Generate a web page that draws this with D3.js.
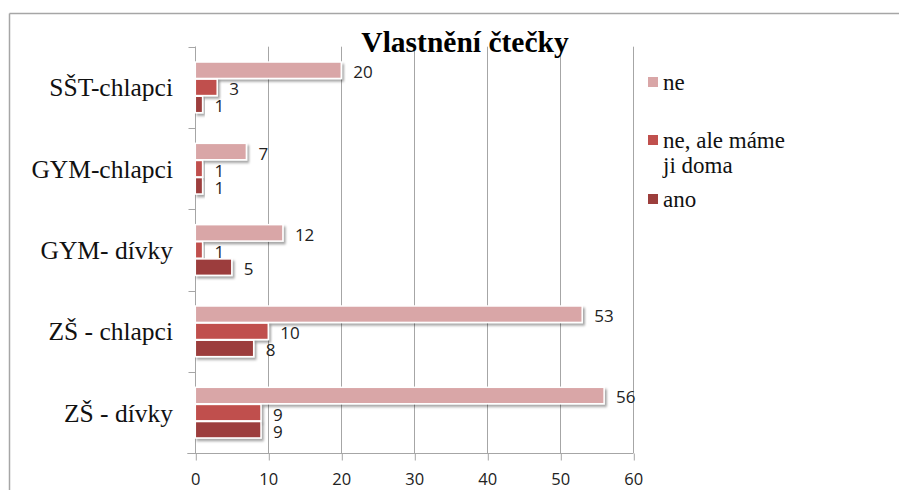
<!DOCTYPE html>
<html>
<head>
<meta charset="utf-8">
<script src="https://cdn.jsdelivr.net/npm/d3@7"></script>
<style>
  body { margin: 0; background: #fff; }
  svg { display: block; }
  .serif { font-family: 'Liberation Serif', 'Times New Roman', Times, 'DejaVu Serif', serif; }
  .sans { font-family: 'Open Sans', 'Liberation Sans', sans-serif; }
</style>
</head>
<body>
<svg width="899" height="490"></svg>
<script>
// data
const categories = ["SŠT-chlapci", "GYM-chlapci", "GYM- dívky", "ZŠ - chlapci", "ZŠ - dívky"];
const seriesNames = ["ne", "ne, ale máme ji doma", "ano"];
const neValues = [20, 7, 12, 53, 56];
const neDomaValues = [3, 1, 1, 10, 9];
const anoValues = [1, 1, 5, 8, 9];
const xTicks = [0, 10, 20, 30, 40, 50, 60];
const colors = ["#d9a6a7", "#c0504d", "#9c3e3c"];

const allValues = [neValues, neDomaValues, anoValues];

const svg = d3.select('svg');

// drop shadow like the office chart
const defs = svg.append('defs');
const f = defs.append('filter').attr('id', 'shadow')
    .attr('x', '-10%').attr('y', '-30%').attr('width', '130%').attr('height', '180%');
f.append('feDropShadow')
    .attr('dx', 2).attr('dy', 2.5).attr('stdDeviation', 1.3)
    .attr('flood-color', '#000').attr('flood-opacity', 0.35);

// outer frame (top + left only visible)
svg.append('line').attr('x1', 9.5).attr('x2', 899).attr('y1', 13.5).attr('y2', 13.5)
    .attr('stroke', '#a6a6a6').attr('stroke-width', 1.5);
svg.append('line').attr('x1', 9.5).attr('x2', 9.5).attr('y1', 13.5).attr('y2', 490)
    .attr('stroke', '#a6a6a6').attr('stroke-width', 1.5);

const plotTop = 46.7, plotBottom = 453.3;

const x = d3.scaleLinear().domain([0, 60]).range([195.3, 633.3]);
const y = d3.scaleBand().domain(categories).range([plotTop, plotBottom])
    .paddingInner(0.36).paddingOuter(0.18);
const ySub = d3.scaleBand().domain(seriesNames).range([0, y.bandwidth()]).padding(0.04);

// gridlines
svg.append('g').selectAll('line').data(xTicks).enter().append('line')
    .attr('x1', d => Math.round(x(d)) + 0.5).attr('x2', d => Math.round(x(d)) + 0.5)
    .attr('y1', plotTop).attr('y2', plotBottom)
    .attr('stroke', '#a6a6a6').attr('stroke-width', 1);

// x axis
const xAxis = svg.append('g')
    .attr('transform', `translate(0,${Math.round(plotBottom) + 0.5})`)
    .call(d3.axisBottom(x).tickValues(xTicks).tickSize(7).tickPadding(13).tickSizeOuter(0));
xAxis.select('.domain').attr('stroke', '#a6a6a6').attr('d', `M${x(0) - 8},0H${x(60)}`);
xAxis.selectAll('.tick line').attr('stroke', '#a6a6a6').attr('transform', 'translate(0.5,0)');
xAxis.selectAll('.tick text').attr('class', 'sans')
    .attr('font-family', null).attr('font-size', 16.5).attr('fill', '#222');

// y axis line and category boundary ticks
const yLineX = Math.round(x(0)) + 0.5;
svg.append('line').attr('x1', yLineX).attr('x2', yLineX).attr('y1', plotTop).attr('y2', plotBottom)
    .attr('stroke', '#a6a6a6');
const boundaries = d3.range(categories.length + 1).map(i => plotTop + i * (plotBottom - plotTop) / categories.length);
svg.append('g').selectAll('line').data(boundaries).enter().append('line')
    .attr('x1', yLineX - 7).attr('x2', yLineX)
    .attr('y1', d => Math.round(d) + 0.5).attr('y2', d => Math.round(d) + 0.5)
    .attr('stroke', '#a6a6a6');

// category labels
svg.append('g').selectAll('text').data(categories).enter().append('text')
    .attr('class', 'serif')
    .attr('x', 173)
    .attr('y', d => y(d) + y.bandwidth() / 2)
    .attr('dy', '0.35em')
    .attr('text-anchor', 'end')
    .attr('font-size', 25.5)
    .attr('fill', '#111')
    .text(d => d);

// bars
const groups = svg.append('g').selectAll('g').data(categories).enter().append('g')
    .attr('transform', d => `translate(0,${y(d)})`);

groups.selectAll('rect')
    .data((c, i) => seriesNames.map((s, j) => ({ s: s, j: j, v: allValues[j][i] })))
    .enter().append('rect')
    .attr('x', x(0))
    .attr('y', d => ySub(d.s))
    .attr('width', d => x(d.v) - x(0))
    .attr('height', ySub.bandwidth())
    .attr('fill', d => colors[d.j])
    .attr('stroke', '#fff')
    .attr('stroke-width', 1.5)
    .attr('filter', 'url(#shadow)');

groups.selectAll('text')
    .data((c, i) => seriesNames.map((s, j) => ({ s: s, j: j, v: allValues[j][i] })))
    .enter().append('text')
    .attr('class', 'sans')
    .attr('x', d => x(d.v) + 12)
    .attr('y', d => ySub(d.s) + ySub.bandwidth() / 2 + 2)
    .attr('dy', '0.35em')
    .attr('font-size', 17)
    .attr('fill', '#222')
    .text(d => d.v);

// title
svg.append('text')
    .attr('class', 'serif')
    .attr('x', 465).attr('y', 52)
    .attr('text-anchor', 'middle')
    .attr('font-weight', 'bold')
    .attr('font-size', 29.5)
    .attr('fill', '#000')
    .text('Vlastnění čtečky');

// legend
const legendRows = [
  { lines: ["ne"], y: 82 },
  { lines: ["ne, ale máme", "ji doma"], y: 140 },
  { lines: ["ano"], y: 199 }
];
const legend = svg.append('g');
legendRows.forEach((r, i) => {
  legend.append('rect')
    .attr('x', 648).attr('y', r.y - 5).attr('width', 10).attr('height', 10)
    .attr('fill', colors[i]);
  r.lines.forEach((t, k) => {
    legend.append('text')
      .attr('class', 'serif')
      .attr('x', 663).attr('y', r.y + k * 25)
      .attr('dy', '0.35em')
      .attr('font-size', 23)
      .attr('fill', '#111')
      .text(t);
  });
});
</script>
</body>
</html>
